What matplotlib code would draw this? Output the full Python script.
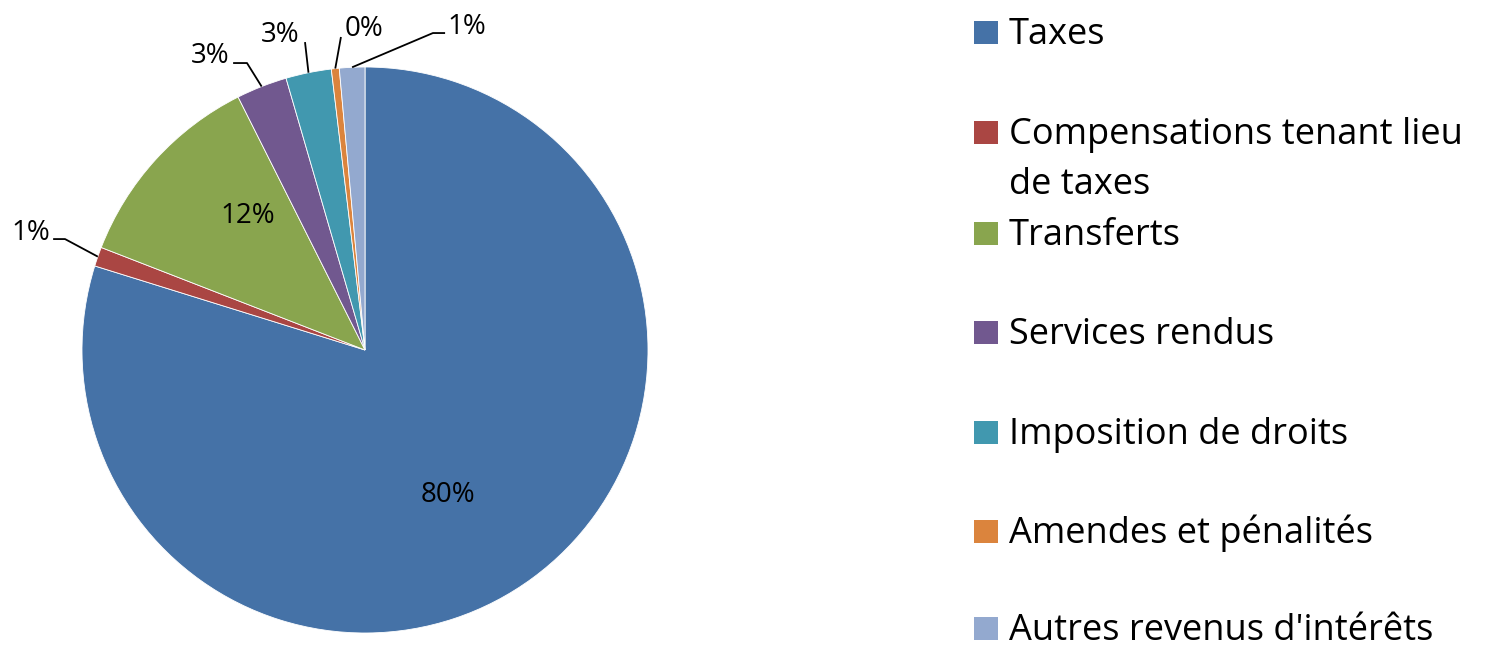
import textwrap
import numpy as np
import matplotlib
matplotlib.use("Agg")
import matplotlib.pyplot as plt
from matplotlib.patches import Rectangle

# ---- data ----
categories = ['Taxes', 'Compensations tenant lieu de taxes', 'Transferts',
              'Services rendus', 'Imposition de droits', 'Amendes et pénalités',
              "Autres revenus d'intérêts"]
values = [79.8, 1.1, 11.7, 2.9, 2.6, 0.45, 1.45]
colors = ['#4572A7', '#AA4643', '#89A54E', '#71588F', '#4198AF', '#DB843D', '#93A9CF']

# ---- layout (style) ----
W, H = 1485, 649
CX, CY, R = 365, 350, 283
FONT = ['Open Sans', 'DejaVu Sans']
plt.rcParams['font.family'] = FONT

# label positions in pie data units (radius = 1): (x, baseline y)
label_pos = [(0.2915, -0.536), (-1.180, 0.389), (-0.415, 0.449), (-0.548, 1.014),
             (-0.300, 1.088), (-0.0035, 1.110), (0.3587, 1.117)]
# leader line points before the rim point (None = no leader)
leader_pts = [None,
              [(-1.102, 0.392), (-1.060, 0.392)],
              None,
              [(-0.466, 1.014), (-0.417, 1.014)],
              [(-0.212, 1.088)],
              [(-0.085, 1.106)],
              [(0.283, 1.120), (0.240, 1.120)]]

fig = plt.figure(figsize=(W / 100, H / 100), dpi=100)
ax = fig.add_axes([(CX - R) / W, (H - CY - R) / H, 2 * R / W, 2 * R / H])
wedges, _ = ax.pie(values, colors=colors, startangle=90, counterclock=False,
                   radius=1, wedgeprops=dict(edgecolor='white', linewidth=0.6))
ax.set_xlim(-1, 1)
ax.set_ylim(-1, 1)
ax.set_aspect('equal')
ax.axis('off')

total = sum(values)
for i, (w, v) in enumerate(zip(wedges, values)):
    pct = f"{round(v / total * 100):.0f}%"
    x, y = label_pos[i]
    ax.text(x, y, pct, ha='center', va='baseline', fontsize=20, color='black',
            clip_on=False)
    if leader_pts[i] is not None:
        mid = np.deg2rad((w.theta1 + w.theta2) / 2)
        pts = leader_pts[i] + [(np.cos(mid), np.sin(mid))]
        xs, ys = zip(*pts)
        ax.plot(xs, ys, color='black', lw=1.3, clip_on=False, solid_capstyle='butt')

# ---- legend (manual) ----
row_base = [44, 144, 245, 344, 444, 543, 640]
for cat, col, b in zip(categories, colors, row_base):
    fig.patches.append(Rectangle((974 / W, (H - b) / H), 24 / W, 23 / H,
                                 transform=fig.transFigure, facecolor=col,
                                 edgecolor='none'))
    for k, line in enumerate(textwrap.wrap(cat, 25)):
        fig.text(1009 / W, (H - b - 50 * k) / H, line, ha='left', va='baseline',
                 fontsize=26, color='black')

fig.savefig('out.png', dpi=100, facecolor='white')
